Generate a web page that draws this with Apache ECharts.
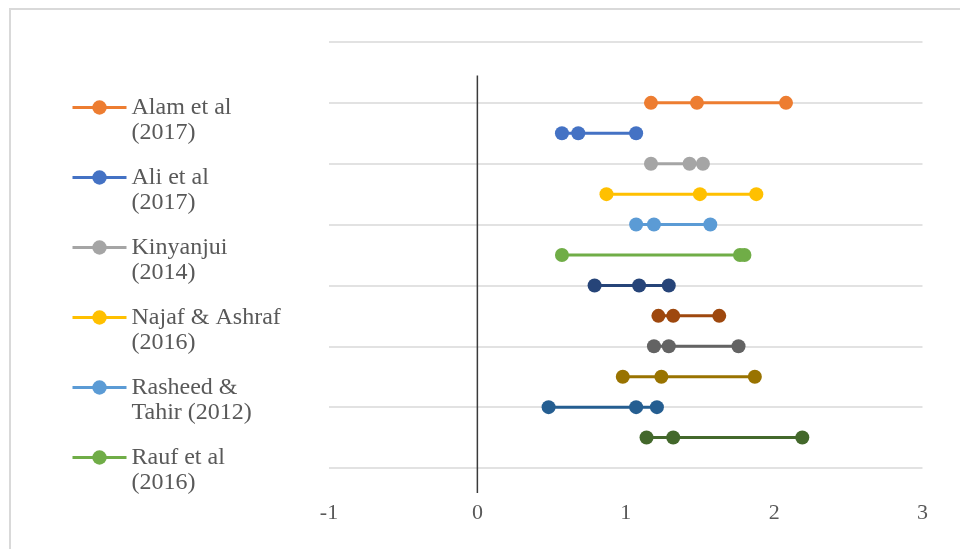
<!DOCTYPE html>
<html>
<head>
<meta charset="utf-8">
<script src="https://cdn.jsdelivr.net/npm/echarts@6/dist/echarts.min.js"></script>
<style>html,body{margin:0;padding:0;background:#fff;}#c{width:960px;height:549px;}</style>
</head>
<body>
<div id="c"></div>
<script>
// Study names (first six appear in the legend)
const studies = ['Alam et al (2017)', 'Ali et al (2017)', 'Kinyanjui (2014)', 'Najaf & Ashraf (2016)',
  'Rasheed & Tahir (2012)', 'Rauf et al (2016)', 'Study 7', 'Study 8', 'Study 9', 'Study 10', 'Study 11', 'Study 12'];
const legendLabels = ['Alam et al\n(2017)', 'Ali et al\n(2017)', 'Kinyanjui\n(2014)', 'Najaf & Ashraf\n(2016)',
  'Rasheed &\nTahir (2012)', 'Rauf et al\n(2016)'];
// Row position of each study on the vertical scale
const rows = [12, 11, 10, 9, 8, 7, 6, 5, 4, 3, 2, 1];
// Three values per study (lower, estimate, upper)
const lower    = [1.17, 0.57, 1.17, 0.87, 1.07, 0.57, 0.79, 1.22, 1.19, 0.98, 0.48, 1.14];
const estimate = [1.48, 0.68, 1.43, 1.50, 1.19, 1.77, 1.09, 1.32, 1.29, 1.24, 1.07, 1.32];
const upper    = [2.08, 1.07, 1.52, 1.88, 1.57, 1.80, 1.29, 1.63, 1.76, 1.87, 1.21, 2.19];
const colors = ['#ED7D31', '#4472C4', '#A5A5A5', '#FFC000', '#5B9BD5', '#70AD47',
  '#264478', '#9E480E', '#636363', '#997300', '#255E91', '#43682B'];
const xTicks = [-1, 0, 1, 2, 3];
// Reference line at x = 0
const refLine = [[0, 12.9], [0, -0.82]];

const labelMap = {};
studies.slice(0, 6).forEach((s, i) => labelMap[s] = '\n' + legendLabels[i]);

const series = studies.map((name, i) => ({
  name: name,
  type: 'line',
  data: [[lower[i], rows[i]], [estimate[i], rows[i]], [upper[i], rows[i]]],
  symbol: 'circle',
  symbolSize: 14,
  showAllSymbol: true,
  itemStyle: { color: colors[i] },
  lineStyle: { color: colors[i], width: 3 },
  emphasis: { disabled: true },
  z: 3
}));
series.push({
  name: 'zero',
  type: 'line',
  data: refLine,
  showSymbol: false,
  symbol: 'none',
  clip: false,
  silent: true,
  lineStyle: { color: '#3a3a3a', width: 1.5 },
  z: 2
});

const chart = echarts.init(document.getElementById('c'), null, { renderer: 'canvas' });
chart.setOption({
  backgroundColor: '#ffffff',
  animation: false,
  color: colors,
  graphic: [{
    type: 'rect',
    shape: { x: 10, y: 9, width: 1000, height: 600 },
    style: { fill: 'none', stroke: '#d9d9d9', lineWidth: 2 },
    silent: true
  }],
  legend: {
    orient: 'vertical',
    left: 71,
    top: 70,
    padding: 0,
    data: studies.slice(0, 6),
    itemWidth: 54,
    itemHeight: 18,
    itemGap: -5,
    lineStyle: { width: 3 },
    formatter: n => labelMap[n] || n,
    textStyle: {
      fontFamily: 'Liberation Serif',
      fontSize: 24,
      color: '#595959',
      lineHeight: 25
    },
    selectedMode: false
  },
  grid: { left: 329, right: 37.5, top: 42, bottom: 81 },
  xAxis: {
    type: 'value',
    min: xTicks[0],
    max: xTicks[xTicks.length - 1],
    interval: 1,
    axisLine: { show: false },
    axisTick: { show: false },
    splitLine: { show: false },
    axisLabel: {
      margin: 34,
      fontFamily: 'Liberation Serif',
      fontSize: 22,
      color: '#595959',
      formatter: v => String(v)
    }
  },
  yAxis: {
    type: 'value',
    min: 0,
    max: 14,
    interval: 2,
    axisLine: { show: false },
    axisTick: { show: false },
    axisLabel: { show: false },
    splitLine: { show: true, lineStyle: { color: '#d9d9d9', width: 1.5 } }
  },
  series: series
});
</script>
</body>
</html>
